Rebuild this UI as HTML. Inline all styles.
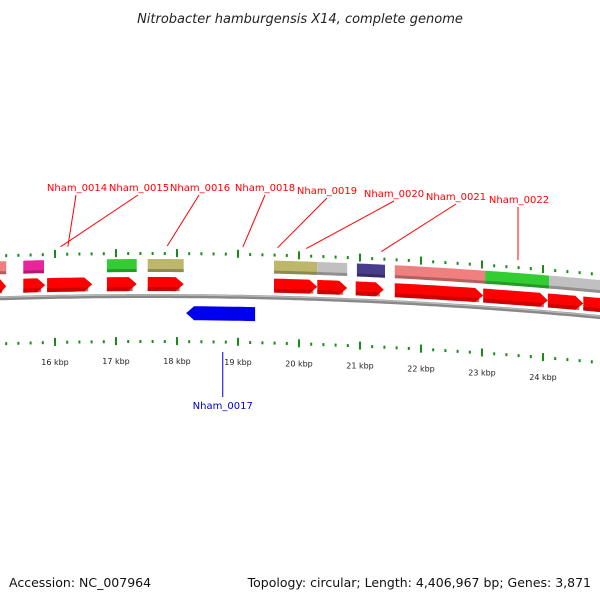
<!DOCTYPE html>
<html><head><meta charset="utf-8"><style>
body{margin:0;background:#fff}
svg{display:block}
text{font-family:"DejaVu Sans","Liberation Sans",sans-serif}
</style></head><body>
<svg id="c" width="600" height="600" xmlns="http://www.w3.org/2000/svg">
<text x="300" y="23" text-anchor="middle" font-size="13" font-style="italic" fill="#222">Nitrobacter hamburgensis X14, complete genome</text>
<text x="9" y="587" font-size="12.5" fill="#111">Accession: NC_007964</text>
<text x="591" y="587" text-anchor="end" font-size="12.5" fill="#111">Topology: circular; Length: 4,406,967 bp; Genes: 3,871</text>
<g id="g"></g>
</svg>
<script>
// data (positions in kbp)
const fwdStarts=[15.0,15.48,15.87,16.85,17.52,19.59,20.30,20.93,21.57,23.02,24.08,24.66];
const fwdEnds  =[15.20,15.84,16.61,17.34,18.11,20.30,20.79,21.39,23.02,24.08,24.66,25.3];
const cogStarts=[15.0,15.48,16.85,17.52,19.59,20.30,20.95,21.57,23.05,24.10];
const cogEnds  =[15.20,15.82,17.34,18.11,20.30,20.79,21.41,23.05,24.10,25.3];
const cogColors=["#f08080","#e8259a","#33cc33","#bdb76b","#bdb76b","#c0c0c0","#483d8b","#f08080","#33cc33","#c0c0c0"];
const revStarts=[18.15];
const revEnds=[19.28];
const labelNames=["Nham_0014","Nham_0015","Nham_0016","Nham_0018","Nham_0019","Nham_0020","Nham_0021","Nham_0022"];
const labelKbp=[16.21,16.09,17.84,19.08,19.65,20.12,21.35,23.59];
const labelPos=[[77,191],[139,191],[200,191],[265,191],[327,194],[394,197],[456,200],[519,203]];
const tickKbp=[16,17,18,19,20,21,22,23,24];

const g=document.getElementById('g');
const NS="http://www.w3.org/2000/svg";
const X=k=>55+(k-16)*61;
const B=x=>296+1.04e-4*(x-150)*(x-150);
function mk(t,a,name){const e=document.createElementNS(NS,t);for(const k in a)e.setAttribute(k,a[k]);


g.appendChild(e);return e;}
function band(x1,x2,off,h,tip,dir){ // returns polygon points following curve
  const pts=[];const n=8;const body2=dir>0?x2-tip:x2, body1=dir<0?x1+tip:x1;
  for(let i=0;i<=n;i++){const x=body1+(body2-body1)*i/n;pts.push([x,B(x)+off]);}
  if(dir>0)pts.push([x2,B(x2)+off+h/2]);
  for(let i=n;i>=0;i--){const x=body1+(body2-body1)*i/n;pts.push([x,B(x)+off+h]);}
  if(dir<0)pts.push([x1,B(x1)+off+h/2]);
  return pts.map(p=>p[0].toFixed(1)+","+p[1].toFixed(1)).join(" ");
}
// backbone
let d="";for(let x=-5;x<=605;x+=5){d+=(x==-5?"M":"L")+x+","+B(x).toFixed(1);}
mk('path',{d:d,stroke:"#888",'stroke-width':4,fill:"none"},'backbone');
mk('path',{d:d,stroke:"#bbb",'stroke-width':1.2,fill:"none",transform:"translate(0,-1)"},'backbone-highlight');
// ticks
for(let k=15;k<=25.01;k+=0.2){const kk=Math.round(k*10)/10;const x=X(kk);if(x<-2||x>602)continue;
  const major=Math.abs(kk-Math.round(kk))<0.01;const y=B(x);
  mk('rect',{x:x-1,y:y-43-(major?4:1),width:2,height:major?8:3,fill:"#1a8a1a"},'upper-tick');
  mk('rect',{x:x-1,y:y+45-(major?4:1),width:2,height:major?8:3,fill:"#1a8a1a"},'lower-tick');}
tickKbp.forEach(k=>{const x=X(k);const t=mk('text',{x:x,y:B(x)+68,'font-size':8,'text-anchor':'middle',fill:"#222"},'tick-label-'+k);t.textContent=k+" kbp";});
// cog boxes
cogStarts.forEach((s,i)=>{const x1=X(s),x2=X(cogEnds[i]);
  mk('polygon',{points:band(x1,x2,-37,13,0,0),fill:cogColors[i]},'cog-box');
  mk('polygon',{points:band(x1,x2,-27,3,0,0),fill:"#000",opacity:0.25},'cog-box-shade');});
// forward genes
fwdStarts.forEach((s,i)=>{const x1=X(s),x2=X(fwdEnds[i]);
  mk('polygon',{points:band(x1,x2,-19,14,Math.min(8,(x2-x1)/2),1),fill:"#ff0000"},'forward-gene');
  mk('polygon',{points:band(x1,x2-4,-9,4,0,0),fill:"#b00000",opacity:0.6},'forward-gene-shade');});
// reverse genes
revStarts.forEach((s,i)=>{const x1=X(s),x2=X(revEnds[i]);
  mk('polygon',{points:band(x1,x2,10,14,8,-1),fill:"#0000ee"},'reverse-gene');});
// labels
labelNames.forEach((n,i)=>{const [lx,ly]=labelPos[i];const tx=X(labelKbp[i]);
  mk('line',{x1:lx-(i>=3&&i<7?0:1),y1:ly+4,x2:tx,y2:B(tx)-50,stroke:"#ff0000",'stroke-width':1},'leader-'+n);
  const t=mk('text',{x:lx,y:ly,'font-size':10,'text-anchor':'middle',fill:"#ff0000"},'gene-label-'+n);t.textContent=n;});
{const x=X(18.75);mk('line',{x1:x,y1:352,x2:x,y2:397,stroke:"#0000cc",'stroke-width':1},'leader-Nham_0017');
 const t=mk('text',{x:x,y:409,'font-size':10,'text-anchor':'middle',fill:"#0000cc"},'gene-label-Nham_0017');t.textContent="Nham_0017";}
</script>
</body></html>
